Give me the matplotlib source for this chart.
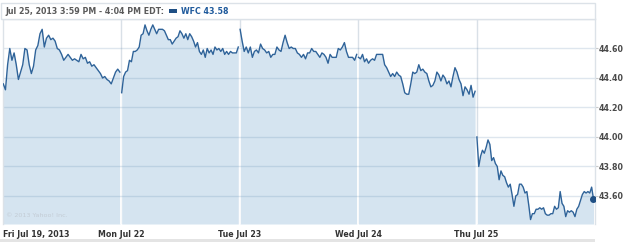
#WFC intraday chart, 5 days (Yahoo style)

import numpy as np
import matplotlib
matplotlib.use("Agg")
import matplotlib.pyplot as plt
from matplotlib.patches import Rectangle

# data ------------------------------
day_labels = ["Fri Jul 19, 2013", "Mon Jul 22", "Tue Jul 23", "Wed Jul 24", "Thu Jul 25"]
y_ticks = [43.60, 43.80, 44.00, 44.20, 44.40, 44.60]
header_text = "Jul 25, 2013 3:59 PM - 4:04 PM EDT:"
legend_text = "WFC 43.58"

fri = [44.36, 44.32, 44.49, 44.60, 44.52, 44.57, 44.49, 44.39, 44.44, 44.49,
       44.60, 44.59, 44.49, 44.43, 44.48, 44.59, 44.62, 44.70, 44.73, 44.61,
       44.67, 44.69, 44.66, 44.67, 44.65, 44.60, 44.59, 44.56, 44.52, 44.54,
       44.56, 44.54, 44.52, 44.53, 44.52, 44.51, 44.56, 44.53, 44.54, 44.50,
       44.51, 44.48, 44.49, 44.47, 44.45, 44.43, 44.40, 44.41, 44.39, 44.38,
       44.36, 44.40, 44.44, 44.46, 44.44]
mon = [44.30, 44.41, 44.44, 44.45, 44.52, 44.51, 44.58, 44.58, 44.59, 44.61,
       44.69, 44.70, 44.76, 44.72, 44.69, 44.73, 44.76, 44.73, 44.70, 44.73,
       44.73, 44.73, 44.72, 44.69, 44.66, 44.66, 44.63, 44.65, 44.67, 44.68,
       44.72, 44.70, 44.67, 44.70, 44.66, 44.70, 44.68, 44.65, 44.61, 44.64,
       44.58, 44.56, 44.59, 44.54, 44.60, 44.57, 44.59, 44.56, 44.61, 44.59,
       44.60, 44.58, 44.60, 44.56, 44.58, 44.56, 44.58, 44.57, 44.57, 44.57,
       44.61]
tue = [44.73, 44.65, 44.58, 44.61, 44.57, 44.61, 44.54, 44.58, 44.59, 44.57,
       44.63, 44.60, 44.59, 44.57, 44.58, 44.54, 44.56, 44.56, 44.61, 44.59,
       44.58, 44.64, 44.69, 44.64, 44.60, 44.61, 44.60, 44.60, 44.57, 44.56,
       44.54, 44.56, 44.53, 44.57, 44.57, 44.60, 44.58, 44.58, 44.56, 44.54,
       44.57, 44.56, 44.54, 44.50, 44.56, 44.54, 44.54, 44.54, 44.60, 44.59,
       44.61, 44.64, 44.58, 44.54, 44.54, 44.54, 44.52, 44.56]
wed = [44.54, 44.53, 44.56, 44.51, 44.53, 44.50, 44.52, 44.53, 44.52, 44.56,
       44.56, 44.56, 44.56, 44.49, 44.47, 44.44, 44.41, 44.43, 44.41, 44.44,
       44.42, 44.41, 44.36, 44.30, 44.29, 44.29, 44.36, 44.44, 44.43, 44.44,
       44.49, 44.45, 44.46, 44.44, 44.43, 44.38, 44.34, 44.35, 44.38, 44.44,
       44.42, 44.38, 44.42, 44.40, 44.36, 44.38, 44.34, 44.41, 44.47, 44.44,
       44.39, 44.36, 44.28, 44.34, 44.32, 44.29, 44.35, 44.27, 44.31]
thu = [44.00, 43.80, 43.87, 43.91, 43.89, 43.93, 43.98, 43.95, 43.84, 43.86,
       43.82, 43.80, 43.71, 43.77, 43.74, 43.73, 43.69, 43.66, 43.68, 43.61,
       43.53, 43.60, 43.61, 43.68, 43.68, 43.66, 43.62, 43.63, 43.54, 43.44,
       43.48, 43.48, 43.51, 43.51, 43.52, 43.51, 43.52, 43.48, 43.47, 43.47,
       43.48, 43.48, 43.53, 43.51, 43.52, 43.63, 43.55, 43.53, 43.46, 43.50,
       43.49, 43.50, 43.49, 43.46, 43.51, 43.53, 43.57, 43.61, 43.63, 43.62,
       43.63, 43.62, 43.66, 43.58]
days = [fri, mon, tue, wed, thu]

# styling ------------------------------
line_col = "#2f6399"
fill_col = "#d5e4f0"
border_col = "#dce2e8"
text_col = "#4a4a4a"
y_lo, y_hi = 43.41, 44.80

plt.rcParams['font.family'] = ['DejaVu Sans']
fig = plt.figure(figsize=(6.25, 2.42), dpi=100)
fig.patch.set_facecolor("white")
ax = fig.add_axes([3/625, 18/242, 592/625, 205/242])

# trading minutes 9:30 -> 16:00 = 390 per day
for d, vals in enumerate(days):
    x = d + np.linspace(1, 385, len(vals)) / 390
    ax.fill_between(x, y_lo, vals, color=fill_col, lw=0, zorder=1)
    ax.plot(x, vals, color=line_col, lw=1.0, zorder=3)

# vertical day separators: grey above the area, white inside it
for d in range(1, 5):
    ax.axvline(d, color="#d9e0e7", lw=1, zorder=0.5)
    ax.vlines(d, y_lo, min(days[d-1][-1], days[d][0]), color="white", lw=1.2, zorder=1.3)

# horizontal grid over the fill
for yv in y_ticks:
    ax.axhline(yv, color="#5b85ad", alpha=0.2, lw=1, zorder=1.5)

# last point marker
ax.plot(4 + 385/390, thu[-1], "o", color="#1f4f84", ms=4, zorder=4)

ax.set_xlim(0, 5)
ax.set_ylim(y_lo, y_hi)
ax.set_xticks(range(5))
ax.set_xticklabels(day_labels, fontsize=5.7, fontweight="bold", color="#333333")
ax.get_xticklabels()[0].set_ha("left")
ax.tick_params(axis="x", length=0, pad=4)
ax.yaxis.tick_right()
ax.set_yticks(y_ticks)
ax.set_yticklabels(["%.2f" % v for v in y_ticks], fontsize=5.7, fontweight="bold", color=text_col)
ax.tick_params(axis="y", length=2, width=0.8, color="#c8c8c8", pad=1)
for side in ["left", "right", "top"]:
    ax.spines[side].set_color(border_col)
    ax.spines[side].set_linewidth(1)
ax.spines["bottom"].set_visible(False)

ax.text(0.005, 0.035, "\u00a9 2013 Yahoo! Inc.", transform=ax.transAxes, fontsize=4.6,
        color="#c3ccd5", zorder=5)

# header box with date range + legend
fig.patches.append(Rectangle((1.5/625, 223/242), 593.5/625, 16/242, transform=fig.transFigure,
                             facecolor="white", edgecolor=border_col, lw=1))
fig.text(5/625, 1 - 11/242, header_text, fontsize=5.7, fontweight="bold", color="#5a5a5a", va="center")
fig.patches.append(Rectangle((169/625, 1 - 12.5/242), 8/625, 3.5/242, transform=fig.transFigure,
                             facecolor="#1f4f84", edgecolor="none"))
fig.text(181/625, 1 - 11/242, legend_text, fontsize=5.7, fontweight="bold", color="#1f5a9c", va="center")

# grey strip at the bottom
fig.patches.append(Rectangle((0, 0), 595/625, 3.5/242, transform=fig.transFigure,
                             facecolor="#e4e4e4", edgecolor="none"))

fig.savefig("out.png", dpi=100)
